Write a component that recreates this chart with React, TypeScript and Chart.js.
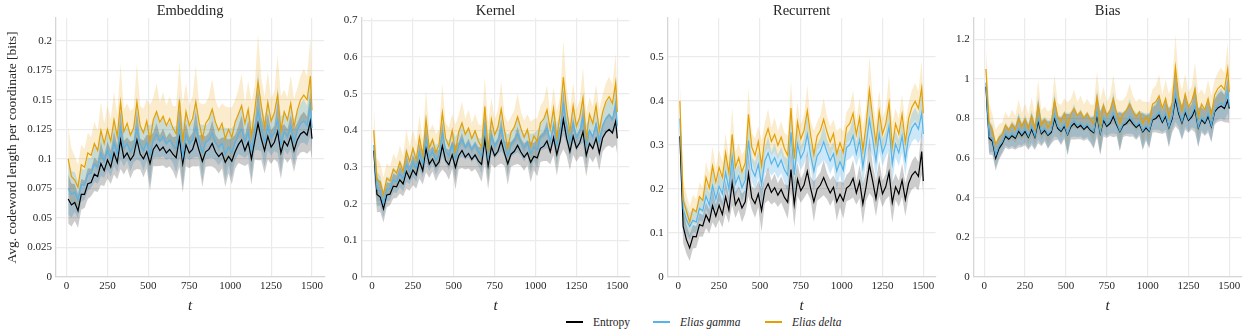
import React, { useEffect, useRef } from "react";
import { Chart, registerables } from "chart.js";

Chart.register(...registerables);

// ---------- data ----------
const T = [
  10, 30, 50, 70, 90, 110, 130, 150, 170, 190, 210, 230, 250, 270, 290, 310, 330, 350, 370, 390,
  410, 430, 450, 470, 490, 510, 530, 550, 570, 590, 610, 630, 650, 670, 690, 710, 730, 750, 770, 790,
  810, 830, 850, 870, 890, 910, 930, 950, 970, 990, 1010, 1030, 1050, 1070, 1090, 1110, 1130, 1150, 1170, 1190,
  1210, 1230, 1250, 1270, 1290, 1310, 1330, 1350, 1370, 1390, 1410, 1430, 1450, 1470, 1490, 1500,
];

// relative width of the shaded spread at each step
const BAND = [
  1.6, 1.4, 1.2, 1.1, 1.0, 0.9, 1.0, 0.9, 1.1, 1.0,
  1.4, 1.0, 1.2, 1.1, 1.4, 1.1, 1.9, 1.1, 1.0, 1.2,
  1.0, 1.9, 1.0, 1.2, 1.1, 1.8, 1.1, 1.4, 1.0, 1.2,
  1.0, 1.1, 1.1, 1.4, 1.9, 1.9, 1.4, 1.0, 1.1, 1.8,
  1.0, 1.7, 1.0, 1.1, 1.5, 1.1, 1.1, 1.0, 1.6, 1.1,
  1.5, 1.1, 1.2, 1.6, 1.0, 1.4, 1.7, 1.2, 2.4, 1.4,
  1.5, 1.5, 1.1, 1.1, 2.0, 1.7, 1.1, 1.1, 1.4, 1.4,
  1.1, 1.2, 1.3, 1.2, 1.9, 1.3,
];

const EMB_ENTROPY = [
  0.066, 0.061, 0.063, 0.056, 0.070, 0.070, 0.079, 0.080, 0.087, 0.085,
  0.096, 0.090, 0.099, 0.093, 0.105, 0.097, 0.116, 0.101, 0.105, 0.099,
  0.103, 0.116, 0.104, 0.100, 0.106, 0.096, 0.108, 0.112, 0.107, 0.110,
  0.105, 0.108, 0.104, 0.101, 0.118, 0.096, 0.112, 0.105, 0.108, 0.117,
  0.107, 0.098, 0.106, 0.108, 0.113, 0.106, 0.102, 0.105, 0.097, 0.102,
  0.098, 0.106, 0.112, 0.116, 0.107, 0.114, 0.100, 0.115, 0.130, 0.117,
  0.107, 0.119, 0.110, 0.114, 0.123, 0.105, 0.115, 0.111, 0.119, 0.107,
  0.116, 0.121, 0.123, 0.120, 0.132, 0.117,
];
const EMB_GAMMA = [
  0.075, 0.070, 0.072, 0.065, 0.078, 0.078, 0.087, 0.088, 0.096, 0.093,
  0.105, 0.098, 0.108, 0.100, 0.114, 0.104, 0.126, 0.109, 0.113, 0.106,
  0.111, 0.126, 0.112, 0.107, 0.114, 0.103, 0.116, 0.121, 0.115, 0.119,
  0.113, 0.116, 0.112, 0.108, 0.128, 0.102, 0.121, 0.113, 0.116, 0.127,
  0.115, 0.105, 0.114, 0.116, 0.122, 0.114, 0.110, 0.113, 0.104, 0.110,
  0.105, 0.114, 0.121, 0.125, 0.115, 0.123, 0.107, 0.124, 0.141, 0.126,
  0.114, 0.128, 0.118, 0.122, 0.133, 0.112, 0.123, 0.119, 0.128, 0.114,
  0.124, 0.130, 0.132, 0.128, 0.146, 0.126,
];
const EMB_DELTA = [
  0.100, 0.085, 0.082, 0.076, 0.095, 0.093, 0.105, 0.103, 0.113, 0.107,
  0.124, 0.113, 0.125, 0.115, 0.133, 0.119, 0.148, 0.123, 0.130, 0.120,
  0.126, 0.148, 0.128, 0.122, 0.132, 0.115, 0.133, 0.140, 0.131, 0.136,
  0.128, 0.134, 0.126, 0.121, 0.150, 0.114, 0.140, 0.128, 0.134, 0.148,
  0.131, 0.117, 0.130, 0.134, 0.142, 0.131, 0.124, 0.130, 0.117, 0.125,
  0.118, 0.131, 0.138, 0.145, 0.130, 0.142, 0.119, 0.141, 0.165, 0.145,
  0.127, 0.148, 0.132, 0.139, 0.154, 0.124, 0.140, 0.133, 0.147, 0.127,
  0.141, 0.150, 0.154, 0.150, 0.170, 0.141,
];

const KER_ENTROPY = [
  0.345, 0.225, 0.218, 0.186, 0.224, 0.226, 0.248, 0.246, 0.265, 0.254,
  0.288, 0.269, 0.292, 0.278, 0.316, 0.290, 0.350, 0.308, 0.322, 0.302,
  0.314, 0.358, 0.318, 0.306, 0.333, 0.299, 0.331, 0.345, 0.327, 0.337,
  0.321, 0.333, 0.317, 0.307, 0.375, 0.303, 0.355, 0.331, 0.343, 0.371,
  0.337, 0.309, 0.335, 0.343, 0.359, 0.341, 0.327, 0.339, 0.313, 0.329,
  0.325, 0.351, 0.357, 0.371, 0.341, 0.380, 0.334, 0.370, 0.430, 0.378,
  0.342, 0.384, 0.352, 0.366, 0.396, 0.332, 0.364, 0.350, 0.378, 0.338,
  0.379, 0.395, 0.403, 0.393, 0.425, 0.378,
];
const KER_GAMMA = [
  0.360, 0.240, 0.235, 0.200, 0.240, 0.240, 0.265, 0.260, 0.282, 0.267,
  0.307, 0.288, 0.314, 0.296, 0.340, 0.308, 0.378, 0.326, 0.343, 0.319,
  0.333, 0.393, 0.345, 0.331, 0.362, 0.321, 0.359, 0.376, 0.354, 0.366,
  0.347, 0.362, 0.342, 0.330, 0.410, 0.324, 0.386, 0.357, 0.372, 0.405,
  0.364, 0.331, 0.362, 0.372, 0.391, 0.369, 0.352, 0.367, 0.336, 0.355,
  0.348, 0.382, 0.389, 0.406, 0.370, 0.414, 0.359, 0.402, 0.470, 0.412,
  0.368, 0.419, 0.380, 0.397, 0.433, 0.357, 0.400, 0.383, 0.417, 0.369,
  0.413, 0.432, 0.442, 0.430, 0.468, 0.412,
];
const KER_DELTA = [
  0.400, 0.265, 0.260, 0.225, 0.269, 0.262, 0.294, 0.283, 0.313, 0.288,
  0.343, 0.315, 0.351, 0.319, 0.381, 0.331, 0.430, 0.351, 0.375, 0.340,
  0.361, 0.448, 0.378, 0.357, 0.399, 0.340, 0.396, 0.420, 0.389, 0.406,
  0.378, 0.399, 0.371, 0.354, 0.465, 0.339, 0.430, 0.388, 0.409, 0.458,
  0.399, 0.350, 0.395, 0.409, 0.437, 0.406, 0.381, 0.402, 0.357, 0.385,
  0.370, 0.421, 0.431, 0.456, 0.403, 0.460, 0.380, 0.443, 0.545, 0.457,
  0.394, 0.467, 0.411, 0.436, 0.488, 0.378, 0.444, 0.419, 0.468, 0.398,
  0.450, 0.478, 0.492, 0.474, 0.530, 0.450,
];

const REC_ENTROPY = [
  0.320, 0.115, 0.085, 0.066, 0.092, 0.091, 0.119, 0.116, 0.141, 0.126,
  0.162, 0.138, 0.163, 0.142, 0.182, 0.152, 0.214, 0.164, 0.179, 0.157,
  0.171, 0.235, 0.180, 0.167, 0.189, 0.151, 0.197, 0.212, 0.192, 0.203,
  0.186, 0.199, 0.181, 0.170, 0.244, 0.165, 0.222, 0.196, 0.209, 0.240,
  0.202, 0.171, 0.200, 0.209, 0.226, 0.207, 0.191, 0.204, 0.171, 0.188,
  0.173, 0.202, 0.208, 0.224, 0.191, 0.217, 0.166, 0.206, 0.255, 0.218,
  0.178, 0.224, 0.189, 0.205, 0.238, 0.169, 0.205, 0.189, 0.220, 0.176,
  0.213, 0.231, 0.240, 0.229, 0.285, 0.218,
];
const REC_GAMMA = [
  0.360, 0.155, 0.130, 0.115, 0.129, 0.125, 0.156, 0.150, 0.184, 0.164,
  0.207, 0.177, 0.206, 0.189, 0.237, 0.199, 0.274, 0.212, 0.230, 0.203,
  0.220, 0.310, 0.245, 0.229, 0.256, 0.210, 0.264, 0.282, 0.257, 0.271,
  0.250, 0.266, 0.244, 0.231, 0.329, 0.232, 0.302, 0.270, 0.286, 0.324,
  0.277, 0.240, 0.275, 0.286, 0.307, 0.284, 0.264, 0.280, 0.241, 0.262,
  0.243, 0.294, 0.301, 0.321, 0.280, 0.312, 0.250, 0.299, 0.358, 0.313,
  0.264, 0.325, 0.282, 0.302, 0.342, 0.258, 0.302, 0.282, 0.320, 0.266,
  0.317, 0.339, 0.350, 0.336, 0.372, 0.325,
];
const REC_DELTA = [
  0.400, 0.175, 0.150, 0.125, 0.155, 0.148, 0.183, 0.174, 0.226, 0.202,
  0.252, 0.215, 0.249, 0.226, 0.282, 0.236, 0.324, 0.249, 0.271, 0.239,
  0.259, 0.370, 0.295, 0.276, 0.308, 0.253, 0.315, 0.337, 0.308, 0.324,
  0.299, 0.318, 0.292, 0.276, 0.384, 0.269, 0.352, 0.314, 0.333, 0.378,
  0.323, 0.278, 0.320, 0.333, 0.358, 0.330, 0.307, 0.326, 0.280, 0.305,
  0.283, 0.340, 0.349, 0.372, 0.324, 0.362, 0.288, 0.346, 0.425, 0.362,
  0.304, 0.376, 0.325, 0.348, 0.396, 0.296, 0.348, 0.325, 0.370, 0.306,
  0.360, 0.386, 0.399, 0.383, 0.430, 0.372,
];

const BIAS_ENTROPY = [
  0.960, 0.700, 0.685, 0.600, 0.648, 0.673, 0.710, 0.695, 0.713, 0.700,
  0.735, 0.713, 0.735, 0.705, 0.745, 0.705, 0.785, 0.723, 0.740, 0.715,
  0.730, 0.800, 0.750, 0.735, 0.760, 0.718, 0.758, 0.775, 0.753, 0.765,
  0.745, 0.760, 0.740, 0.728, 0.815, 0.725, 0.790, 0.760, 0.775, 0.810,
  0.768, 0.733, 0.765, 0.775, 0.795, 0.773, 0.755, 0.770, 0.733, 0.753,
  0.735, 0.793, 0.800, 0.818, 0.780, 0.810, 0.753, 0.798, 0.900, 0.823,
  0.778, 0.830, 0.790, 0.808, 0.845, 0.753, 0.793, 0.775, 0.810, 0.760,
  0.833, 0.853, 0.863, 0.850, 0.890, 0.850,
];
const BIAS_GAMMA = [
  0.980, 0.710, 0.700, 0.615, 0.660, 0.682, 0.722, 0.704, 0.726, 0.708,
  0.750, 0.722, 0.748, 0.712, 0.760, 0.712, 0.805, 0.731, 0.751, 0.721,
  0.739, 0.820, 0.760, 0.742, 0.772, 0.722, 0.770, 0.790, 0.764, 0.778,
  0.754, 0.772, 0.748, 0.734, 0.835, 0.727, 0.805, 0.769, 0.787, 0.829,
  0.779, 0.737, 0.775, 0.787, 0.811, 0.785, 0.763, 0.781, 0.738, 0.762,
  0.740, 0.805, 0.813, 0.835, 0.789, 0.825, 0.757, 0.811, 0.923, 0.838,
  0.784, 0.846, 0.798, 0.820, 0.864, 0.757, 0.805, 0.783, 0.825, 0.765,
  0.842, 0.866, 0.878, 0.862, 0.935, 0.860,
];
const BIAS_DELTA = [
  1.050, 0.780, 0.740, 0.670, 0.703, 0.719, 0.766, 0.742, 0.771, 0.744,
  0.800, 0.759, 0.794, 0.746, 0.810, 0.746, 0.865, 0.766, 0.793, 0.753,
  0.777, 0.890, 0.810, 0.786, 0.826, 0.759, 0.823, 0.850, 0.815, 0.834,
  0.802, 0.826, 0.794, 0.775, 0.905, 0.761, 0.865, 0.817, 0.841, 0.897,
  0.830, 0.774, 0.825, 0.841, 0.873, 0.838, 0.809, 0.833, 0.777, 0.809,
  0.780, 0.873, 0.884, 0.913, 0.852, 0.900, 0.809, 0.881, 1.060, 0.912,
  0.840, 0.923, 0.859, 0.888, 0.947, 0.809, 0.873, 0.844, 0.900, 0.820,
  0.919, 0.951, 0.967, 0.946, 1.050, 0.933,
];

// spread half-widths [entropy, gamma, delta]
const EMB_SPREAD = [0.013, 0.014, 0.017];
const KER_SPREAD = [0.034, 0.034, 0.042];
const REC_SPREAD = [0.027, 0.027, 0.032];
const BIAS_SPREAD = [0.058, 0.058, 0.068];

const X_TICKS = [0, 250, 500, 750, 1000, 1250, 1500];
const EMB_TICKS = [0, 0.025, 0.05, 0.075, 0.1, 0.125, 0.15, 0.175, 0.2];
const KER_TICKS = [0, 0.1, 0.2, 0.3, 0.4, 0.5, 0.6, 0.7];
const REC_TICKS = [0, 0.1, 0.2, 0.3, 0.4, 0.5];
const BIAS_TICKS = [0, 0.2, 0.4, 0.6, 0.8, 1, 1.2];

const SERIES_NAMES = ["Entropy", "Elias gamma", "Elias delta"];
const TITLES = ["Embedding", "Kernel", "Recurrent", "Bias"];
const Y_TITLE = "Avg. codeword length per coordinate [bits]";
const X_TITLE = "t";

// ---------- styling / layout ----------
const FONT = "'Liberation Serif', 'Times New Roman', serif";
const TEXT = "#262626";
const COLORS = ["#000000", "#56B4E9", "#E69F00"];
const BANDS = ["rgba(0,0,0,0.2)", "rgba(86,180,233,0.3)", "rgba(230,159,0,0.2)"];
const CANVAS_H = 315;
const AREA_BOTTOM = 277;

const PANELS = [
  { title: TITLES[0], series: [EMB_ENTROPY, EMB_GAMMA, EMB_DELTA], spread: EMB_SPREAD, ticks: EMB_TICKS, yMax: 0.2192, left: 0, width: 328, yW: 56, padR: 3.8, yTitle: true },
  { title: TITLES[1], series: [KER_ENTROPY, KER_GAMMA, KER_DELTA], spread: KER_SPREAD, ticks: KER_TICKS, yMax: 0.7065, left: 332, width: 300, yW: 29.5, padR: 2.5, yTitle: false },
  { title: TITLES[2], series: [REC_ENTROPY, REC_GAMMA, REC_DELTA], spread: REC_SPREAD, ticks: REC_TICKS, yMax: 0.5886, left: 638, width: 300, yW: 29.7, padR: 2.5, yTitle: false },
  { title: TITLES[3], series: [BIAS_ENTROPY, BIAS_GAMMA, BIAS_DELTA], spread: BIAS_SPREAD, ticks: BIAS_TICKS, yMax: 1.307, left: 944, width: 300, yW: 29.7, padR: 2.5, yTitle: false },
];

const fmt = (v: number) => String(parseFloat(v.toFixed(3)));

function Panel({ cfg }: { cfg: any }) {
  const ref = useRef<HTMLCanvasElement>(null);
  useEffect(() => {
    if (!ref.current) return;
    const datasets: any[] = [];
    cfg.series.forEach((vals: number[], k: number) => {
      const s = cfg.spread[k];
      const lowIdx = datasets.length;
      datasets.push({
        data: vals.map((v, i) => v - s * BAND[i]),
        borderWidth: 0, borderColor: "transparent", pointRadius: 0, fill: false, order: 10,
      });
      datasets.push({
        data: vals.map((v, i) => v + s * BAND[i]),
        borderWidth: 0, borderColor: "transparent", pointRadius: 0, fill: lowIdx,
        backgroundColor: BANDS[k], order: 10,
      });
    });
    cfg.series.forEach((vals: number[], k: number) => {
      datasets.push({
        label: SERIES_NAMES[k], data: vals, borderColor: COLORS[k], borderWidth: 1.2,
        pointRadius: 0, fill: false, tension: 0, order: 3 - k,
      });
    });
    const chart = new Chart(ref.current, {
      type: "line",
      data: { labels: T, datasets },
      options: {
        animation: false,
        responsive: false,
        events: [],
        layout: { padding: { left: 0, right: cfg.padR, top: 0, bottom: 0 } },
        plugins: {
          legend: { display: false },
          tooltip: { enabled: false },
          filler: { drawTime: "beforeDatasetsDraw" },
          title: {
            display: true, text: cfg.title, fullSize: false, color: TEXT,
            font: { family: FONT, size: 14.5, weight: "normal", lineHeight: 1 },
            padding: { top: 3.5, bottom: 0 },
          },
        },
        scales: {
          x: {
            type: "linear", min: -64.5, max: 1574.5,
            afterBuildTicks: (s: any) => { s.ticks = X_TICKS.map((v) => ({ value: v })); },
            afterFit: (s: any) => { s.height = CANVAS_H - AREA_BOTTOM; },
            grid: { color: "#ebebeb", lineWidth: 1.2, drawTicks: false },
            border: { display: true, color: "#d6d6d6", width: 1.3 },
            ticks: { color: TEXT, padding: 3, maxRotation: 0, font: { family: FONT, size: 11 }, callback: (v: any) => fmt(Number(v)) },
            title: { display: true, text: X_TITLE, color: TEXT, font: { family: FONT, size: 15, style: "italic" }, padding: { top: 0, bottom: 0 } },
          },
          y: {
            type: "linear", min: 0, max: cfg.yMax,
            afterBuildTicks: (s: any) => { s.ticks = cfg.ticks.map((v: number) => ({ value: v })); },
            afterFit: (s: any) => { s.width = cfg.yW; },
            grid: { color: "#ebebeb", lineWidth: 1.2, drawTicks: false },
            border: { display: true, color: "#d6d6d6", width: 1.3 },
            ticks: { color: TEXT, padding: 4, font: { family: FONT, size: 11 }, callback: (v: any) => fmt(Number(v)) },
            title: {
              display: cfg.yTitle, text: Y_TITLE, color: TEXT,
              font: { family: FONT, size: 13.5 }, padding: { top: 4.5, bottom: 0 },
            },
          },
        },
      } as any,
    });
    return () => chart.destroy();
  }, []);
  return (
    <canvas
      ref={ref}
      width={cfg.width}
      height={CANVAS_H}
      style={{ position: "absolute", left: cfg.left, top: 0, width: cfg.width, height: CANVAS_H }}
    />
  );
}

const legendItems = [
  { name: SERIES_NAMES[0], color: COLORS[0], line: 566, text: 593, italic: false },
  { name: SERIES_NAMES[1], color: COLORS[1], line: 653, text: 680, italic: true },
  { name: SERIES_NAMES[2], color: COLORS[2], line: 765, text: 792, italic: true },
];

export default function App() {
  return (
    <div style={{ position: "fixed", left: 0, top: 0, width: 1246, height: 336, background: "#fff", overflow: "hidden" }}>
      {PANELS.map((p, i) => (
        <Panel key={i} cfg={p} />
      ))}
      {legendItems.map((it, i) => (
        <React.Fragment key={i}>
          <div style={{ position: "absolute", left: it.line, top: 321, width: 17, height: 1.5, background: it.color }} />
          <div
            style={{
              position: "absolute", left: it.text, top: 315, height: 14, lineHeight: "14px",
              fontFamily: FONT, fontSize: 11.5, color: TEXT, fontStyle: it.italic ? "italic" : "normal", whiteSpace: "nowrap",
            }}
          >
            {it.name}
          </div>
        </React.Fragment>
      ))}
    </div>
  );
}
